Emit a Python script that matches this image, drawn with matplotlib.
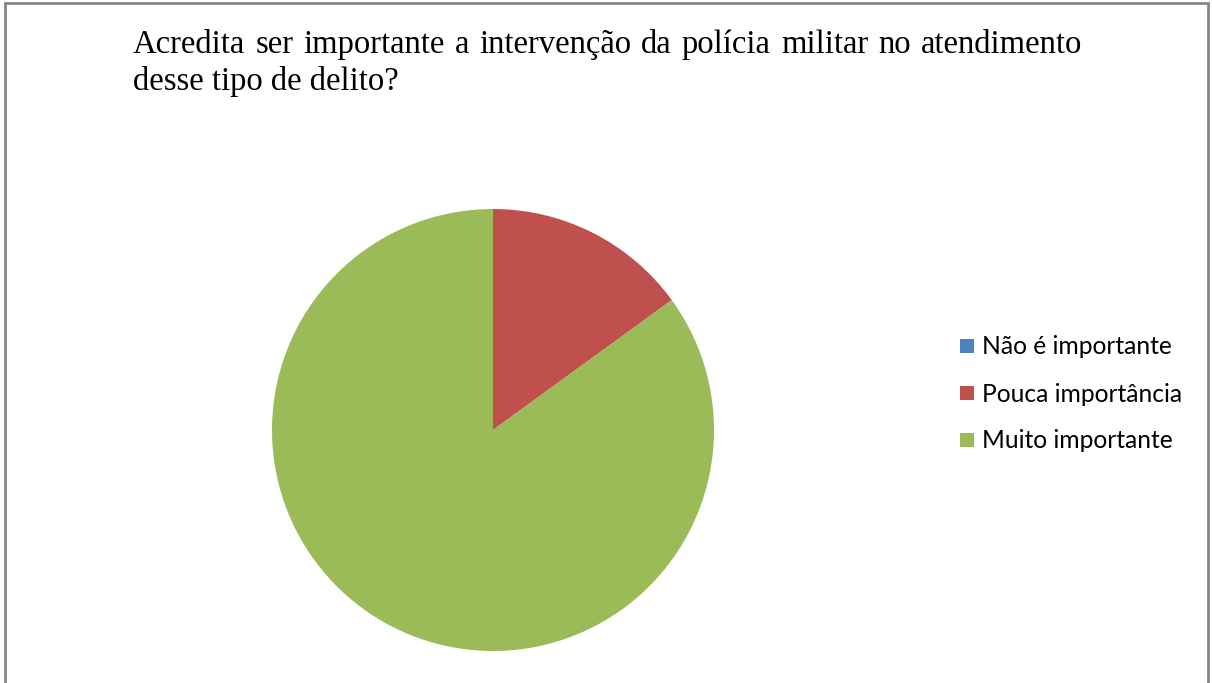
import matplotlib
matplotlib.use("Agg")
import matplotlib.pyplot as plt
from matplotlib.lines import Line2D
from matplotlib.patches import Rectangle

categories = ["Não é importante", "Pouca importância", "Muito importante"]
values = [0, 15, 85]
colors = ["#4F81BD", "#C0504D", "#9BBB59"]
title_line1 = "Acredita ser importante a intervenção da polícia militar no atendimento"
title_line2 = "desse tipo de delito?"

W, H = 1212, 683
fig = plt.figure(figsize=(W / 100, H / 100), dpi=100)
fig.patch.set_facecolor("white")

def fx(px):
    return px / W

def fy(py):
    return 1 - py / H

# frame border (open at bottom)
fig.add_artist(Line2D([fx(4.5), fx(4.5), fx(1207.5), fx(1207.5)],
                      [fy(700), fy(3), fy(3), fy(700)],
                      transform=fig.transFigure, color="#868686", lw=2.0,
                      solid_joinstyle="miter"))

# pie
cx, cy, r = 493, 430, 221
ax = fig.add_axes([fx(cx - r), fy(cy + r), 2 * r / W, 2 * r / H])
ax.pie(values, colors=colors, startangle=90, counterclock=False,
       wedgeprops=dict(linewidth=0))
ax.set_xlim(-1, 1)
ax.set_ylim(-1, 1)
ax.set_aspect("auto")
ax.axis("off")

# title, justified first line
tfont = dict(family="Liberation Serif", size=23.5, color="black")
renderer = fig.canvas.get_renderer()
words = title_line1.split(" ")
x_left, x_right = 133, 1082
widths = []
for w in words:
    t = fig.text(0, 0, w, **tfont)
    bb = t.get_window_extent(renderer=renderer)
    widths.append(bb.width)
    t.remove()
gap = (x_right - x_left - sum(widths)) / (len(words) - 1)
x = x_left
for w, wd in zip(words, widths):
    fig.text(fx(x), fy(53), w, ha="left", va="baseline", **tfont)
    x += wd + gap
fig.text(fx(133), fy(90), title_line2, ha="left", va="baseline", **tfont)

# legend
lfont = dict(family="Lato", size=17.7, color="black")
ys = [346, 393, 440]
for cat, col, y in zip(categories, colors, ys):
    fig.add_artist(Rectangle((fx(960), fy(y + 7)), 14 / W, 14 / H,
                             transform=fig.transFigure, color=col, lw=0))
    fig.text(fx(982), fy(y + 1), cat, ha="left", va="center", **lfont)

fig.savefig("out.png", dpi=100)
